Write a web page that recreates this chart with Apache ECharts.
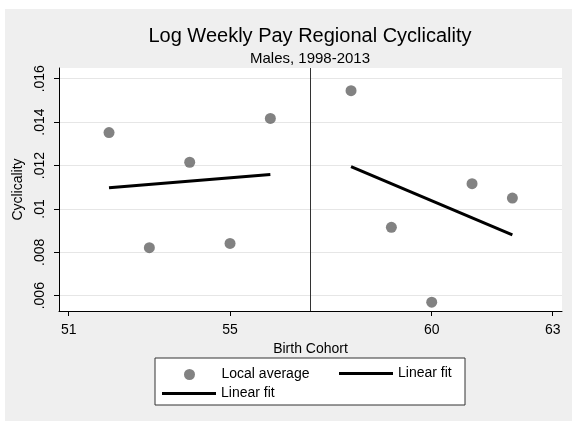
<!DOCTYPE html>
<html>
<head>
<meta charset="utf-8">
<script src="https://cdn.jsdelivr.net/npm/echarts@6/dist/echarts.min.js"></script>
<style>
  html, body { margin: 0; padding: 0; background: #fff; }
  #chart1 { width: 572px; height: 421px; }
</style>
</head>
<body>
<div id="chart1"></div>
<script>
// data
var cohorts = [52, 53, 54, 55, 56, 58, 59, 60, 61, 62];
var localAvg = [0.01352, 0.00821, 0.01215, 0.00841, 0.01417, 0.01545, 0.00915, 0.0057, 0.01116, 0.0105];
var fitLeftX = [52, 56];
var fitLeftY = [0.01098, 0.01158];
var fitRightX = [58, 62];
var fitRightY = [0.01195, 0.0088];
var xTicks = [51, 55, 60, 63];
var yTicks = [0.006, 0.008, 0.01, 0.012, 0.014, 0.016];
var cutoff = 57;

var font = 'Arial, "Liberation Sans", sans-serif';

function pairs(xs, ys) {
    return xs.map(function (x, i) { return [x, ys[i]]; });
}

var myChart = echarts.init(document.getElementById('chart1'));

var legendText = { fontFamily: font, fontSize: 14, color: '#000' };

var option = {
    backgroundColor: '#fff',
    animation: false,
    textStyle: { fontFamily: font, color: '#000' },
    graphic: [
        // gray graph region
        { type: 'rect', z: -10, shape: { x: 5, y: 9, width: 567, height: 412 }, style: { fill: '#efefef' } },
        // legend box
        { type: 'rect', z: -5, shape: { x: 155, y: 358, width: 310, height: 47 }, style: { fill: '#fff', stroke: '#333', lineWidth: 1 } }
    ],
    title: {
        text: 'Log Weekly Pay Regional Cyclicality',
        subtext: 'Males, 1998-2013',
        left: 310,
        textAlign: 'center',
        top: 26,
        padding: 0,
        itemGap: 5,
        textStyle: { fontFamily: font, fontSize: 20, fontWeight: 'normal', color: '#000' },
        subtextStyle: { fontFamily: font, fontSize: 15, color: '#000' }
    },
    legend: [
        {
            left: 184, top: 367.5, padding: 0, itemWidth: 54, itemHeight: 11,
            data: [{ name: 'Local average', icon: 'circle' }],
            textStyle: legendText
        },
        {
            left: 339, top: 366.5, padding: 0, itemWidth: 54, itemHeight: 3,
            data: [{ name: 'Linear fit', icon: 'rect' }],
            textStyle: legendText
        },
        {
            left: 162, top: 386.5, padding: 0, itemWidth: 54, itemHeight: 3,
            data: [{ name: 'Linear fit', icon: 'rect' }],
            textStyle: legendText
        }
    ],
    grid: {
        left: 59, right: 10, top: 68, bottom: 110,
        show: true, backgroundColor: '#fff', borderWidth: 0
    },
    xAxis: {
        type: 'value',
        min: 50.76, max: 63.23,
        name: 'Birth Cohort', nameLocation: 'middle', nameGap: 25,
        nameTextStyle: { fontFamily: font, fontSize: 14, color: '#000' },
        axisLine: { lineStyle: { color: '#000', width: 1 } },
        axisTick: { show: true, length: 5, customValues: xTicks, lineStyle: { color: '#000' } },
        axisLabel: { customValues: xTicks, margin: 12, fontSize: 14, color: '#000', fontFamily: font },
        splitLine: { show: false }
    },
    yAxis: {
        type: 'value',
        min: 0.005294, max: 0.016494,
        name: 'Cyclicality', nameLocation: 'middle', nameGap: 26,
        nameTextStyle: { fontFamily: font, fontSize: 14, color: '#000' },
        axisLine: { show: true, lineStyle: { color: '#000', width: 1 } },
        axisTick: { show: true, length: 5, customValues: yTicks, lineStyle: { color: '#000' } },
        axisLabel: {
            customValues: yTicks, rotate: 90, margin: 12, fontSize: 14, color: '#000', fontFamily: font,
            formatter: function (v) { return String(+v.toFixed(3)).replace(/^0/, ''); }
        },
        splitLine: { show: true, lineStyle: { color: '#e6e6e6', width: 1 } }
    },
    series: [
        {
            name: 'Local average',
            type: 'scatter',
            symbolSize: 11,
            itemStyle: { color: '#636363' },
            data: pairs(cohorts, localAvg),
            markLine: {
                silent: true,
                symbol: 'none',
                label: { show: false },
                lineStyle: { color: '#333', width: 1, type: 'solid' },
                data: [{ xAxis: cutoff }]
            }
        },
        {
            name: 'Linear fit',
            type: 'line',
            symbol: 'none',
            lineStyle: { color: '#000', width: 3 },
            itemStyle: { color: '#000' },
            data: pairs(fitLeftX, fitLeftY)
        },
        {
            name: 'Linear fit',
            type: 'line',
            symbol: 'none',
            lineStyle: { color: '#000', width: 3 },
            itemStyle: { color: '#000' },
            data: pairs(fitRightX, fitRightY)
        }
    ]
};

myChart.setOption(option);
</script>
</body>
</html>
